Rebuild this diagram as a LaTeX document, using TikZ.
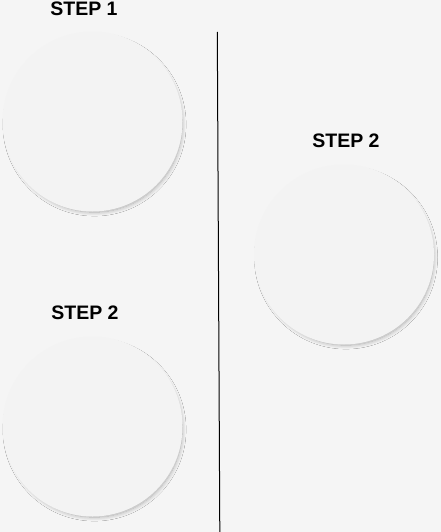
\documentclass[tikz,border=0pt]{standalone}
\usepackage{fontspec}
\setmainfont{Liberation Sans}
\usetikzlibrary{shadows.blur}
\definecolor{bg}{HTML}{F5F5F5}
\definecolor{disc}{HTML}{F3F3F3}
\begin{document}
\begin{tikzpicture}[x=1pt,y=-1pt,
  stepdisc/.style={circle,fill=disc,minimum size=180pt,inner sep=0pt,
    blur shadow={shadow xshift=2pt,shadow yshift=-3pt,shadow blur steps=12,shadow blur radius=4pt,shadow scale=0.975,shadow opacity=30}},
  steplabel/.style={font=\bfseries\fontsize{19.5}{20}\selectfont,inner sep=0pt,anchor=base}]
\fill[bg] (0,0) rectangle (441,532);
\useasboundingbox (0,0) rectangle (441,532);
\node[stepdisc] (c1) at (92.5,121.5) {};
\node[stepdisc] (c2) at (92.5,426.5) {};
\node[stepdisc] (c3) at (344,254.5) {};
\node[steplabel] (t1) at (84,15.5) {STEP 1};
\node[steplabel] (t2) at (85,319) {STEP 2};
\node[steplabel] (t3) at (346,147) {STEP 2};
\coordinate (ltop) at (217.3,32);
\coordinate (lbot) at (219.8,532);
\draw[line width=1pt,black] (ltop) -- (lbot);
\end{tikzpicture}
\end{document}
